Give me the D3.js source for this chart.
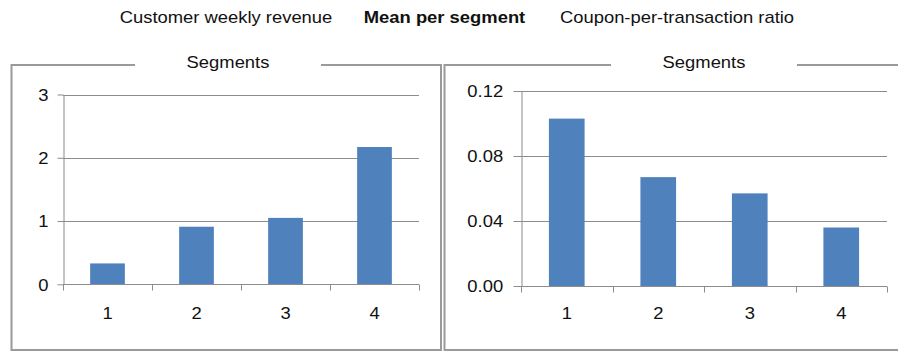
<!DOCTYPE html>
<html>
<head>
<meta charset="utf-8">
<script src="https://cdn.jsdelivr.net/npm/d3@7"></script>
<style>
  body { margin: 0; background: #fff; }
  svg { display: block; font-family: "Liberation Sans", Arial, sans-serif; }
</style>
</head>
<body>
<div id="chart"></div>
<script>
// data
var segments = ["1", "2", "3", "4"];
var revenueMeans = [0.33, 0.91, 1.05, 2.17];
var couponRatioMeans = [0.103, 0.067, 0.057, 0.036];
var revenueTicks = [0, 1, 2, 3];
var couponTicks = [0, 0.04, 0.08, 0.12];

var headerLeft = "Customer weekly revenue";
var headerMid = "Mean per segment";
var headerRight = "Coupon-per-transaction ratio";
var panelTitle = "Segments";

var W = 898, H = 352;
var barColor = "#4f81bd";
var gridColor = "#8c8c8c";
var boxColor = "#9a9a9a";
var stretch = 1.15;   // reference text is a bit wide

var svg = d3.select("#chart").append("svg")
    .attr("width", W)
    .attr("height", H);

function label(g, x, y, txt, anchor, weight) {
    return g.append("text")
        .attr("transform", "translate(" + x + "," + y + ") scale(" + stretch + ",1)")
        .attr("text-anchor", anchor || "middle")
        .attr("font-size", "16px")
        .attr("font-weight", weight || "normal")
        .attr("fill", "#111")
        .text(txt);
}

// header line
label(svg, 226, 23, headerLeft, "middle");
label(svg, 444.5, 23, headerMid, "middle", "bold");
label(svg, 677, 23, headerRight, "middle");

var panels = [
    { values: revenueMeans, ticks: revenueTicks, fmt: d3.format("d"),
      box: [11.5, 65, 441, 350], titleX: 228,
      xr: [63, 419], yr: [284.3, 94.5], tick: 6, pad: 7 },
    { values: couponRatioMeans, ticks: couponTicks, fmt: d3.format(".2f"),
      box: [444.5, 65, 910, 350], titleX: 704,
      xr: [521, 887], yr: [286, 91], tick: 8, pad: 8 }
];

panels.forEach(function(p) {
    var g = svg.append("g");
    var b = p.box;

    // frame with a gap in the top edge for the title
    var frame = g.append("g")
        .attr("fill", "none")
        .attr("stroke", boxColor)
        .attr("stroke-width", 2);
    frame.append("path")
        .attr("d", "M" + (p.titleX - 93) + "," + b[1] + "H" + b[0] + "V" + b[3] +
                   "H" + b[2] + "V" + b[1] + "H" + (p.titleX + 93));
    label(g, p.titleX, 67.5, panelTitle, "middle");

    var x = d3.scaleBand()
        .domain(segments)
        .range(p.xr)
        .padding(0);

    var y = d3.scaleLinear()
        .domain([0, d3.max(p.ticks)])
        .range(p.yr);

    // gridlines
    g.append("g")
        .selectAll("line")
        .data(p.ticks.slice(1))
        .enter().append("line")
        .attr("x1", p.xr[0]).attr("x2", p.xr[1])
        .attr("y1", function(d) { return Math.round(y(d)) + 0.5; })
        .attr("y2", function(d) { return Math.round(y(d)) + 0.5; })
        .attr("stroke", gridColor)
        .attr("stroke-width", 1);

    // bars
    var bw = x.bandwidth() * 0.39;
    g.append("g")
        .selectAll("rect")
        .data(p.values)
        .enter().append("rect")
        .attr("x", function(d, i) { return x(segments[i]) + (x.bandwidth() - bw) / 2; })
        .attr("y", function(d) { return y(d); })
        .attr("width", bw)
        .attr("height", function(d) { return y(0) - y(d); })
        .attr("fill", barColor);

    // y axis
    var ya = g.append("g")
        .attr("transform", "translate(" + (p.xr[0] + 0.5) + ",0)")
        .call(d3.axisLeft(y).tickValues(p.ticks).tickFormat(p.fmt)
            .tickSize(p.tick).tickSizeOuter(0).tickPadding(p.pad));
    ya.select(".domain").attr("stroke", gridColor);
    ya.selectAll("line").attr("stroke", gridColor);
    ya.selectAll("text")
        .attr("font-size", "16px")
        .attr("font-family", "Liberation Sans, Arial, sans-serif")
        .attr("fill", "#111")
        .attr("dy", "0.36em")
        .attr("transform", "scale(" + stretch + ",1)");

    // x axis: ticks at band edges, labels at band centres
    var base = Math.round(y(0)) + 0.5;
    var xa = g.append("g");
    xa.append("line")
        .attr("x1", p.xr[0]).attr("x2", p.xr[1])
        .attr("y1", base).attr("y2", base)
        .attr("stroke", gridColor);
    xa.selectAll("line.tk")
        .data(segments.map(function(s) { return x(s); }).concat([p.xr[1]]))
        .enter().append("line")
        .attr("class", "tk")
        .attr("x1", function(d) { return Math.round(d) + 0.5; })
        .attr("x2", function(d) { return Math.round(d) + 0.5; })
        .attr("y1", base).attr("y2", base + 6)
        .attr("stroke", gridColor);
    segments.forEach(function(s) {
        label(xa, x(s) + x.bandwidth() / 2, 318.5, s, "middle");
    });
});
</script>
</body>
</html>
